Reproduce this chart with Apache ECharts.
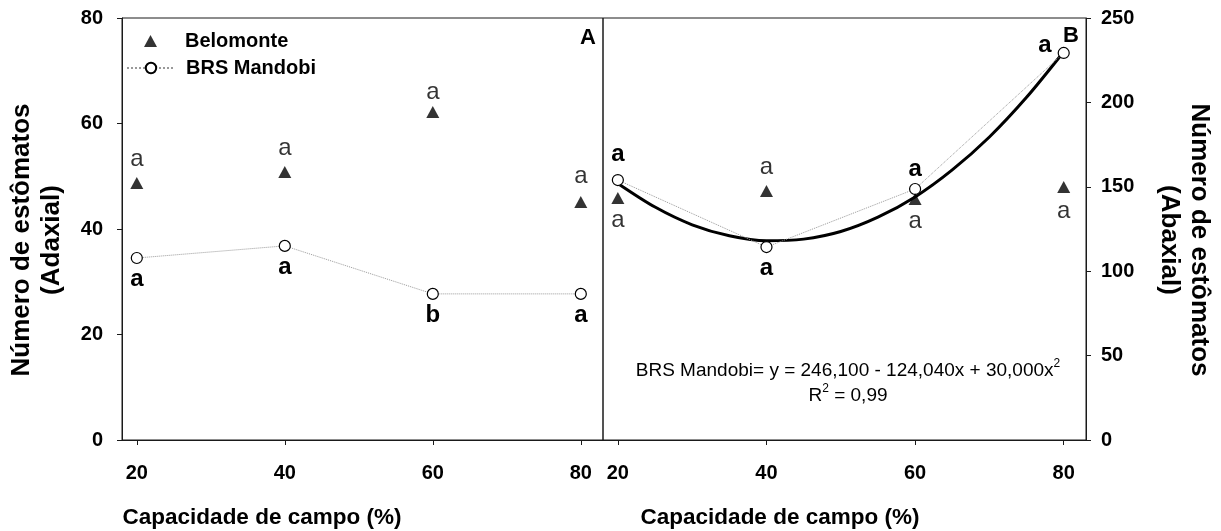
<!DOCTYPE html>
<html>
<head>
<meta charset="utf-8">
<script src="https://cdn.jsdelivr.net/npm/echarts@6/dist/echarts.min.js"></script>
<style>
  html, body { margin: 0; padding: 0; background: #fff; }
  #chart { width: 1221px; height: 531px; }
</style>
</head>
<body>
<div id="chart"></div>
<script>
// capacidade de campo (%)
const capacidade = [20, 40, 60, 80];
const ticksX = [20, 40, 60, 80];

// painel A - adaxial
const belomonteAdaxial = [48.7, 50.8, 62.2, 45.1];
const mandobiAdaxial = [34.5, 36.8, 27.7, 27.7];
const letrasBelAdaxial = ['a', 'a', 'a', 'a'];
const letrasManAdaxial = ['a', 'a', 'b', 'a'];

// painel B - abaxial
const belomonteAbaxial = [143.4, 147.5, 142.8, 149.9];
const mandobiAbaxial = [154, 114.3, 148.7, 229.3];
const letrasBelAbaxial = ['a', 'a', 'a', 'a'];
const letrasManAbaxial = ['a', 'a', 'a', 'a'];

// curva de regressão (BRS Mandobi, abaxial)
const ajusteX = [20, 25, 30, 35, 40, 45, 50, 55, 60, 65, 70, 75, 80];
const ajusteY = [152, 138, 127.5, 121, 118, 119, 123.5, 132, 144, 160, 179.5, 203, 230];

const fonte = 'Arial, "Liberation Sans", sans-serif';
const cor = '#1a1a1a';

// monta os pontos com a letra de cada média
function pontos(valores, letras, posicoes) {
  return capacidade.map((x, i) => {
    const p = posicoes[i];
    return {
      value: [x, valores[i]],
      label: {
        formatter: letras[i],
        position: p.pos,
        distance: p.dist,
        offset: p.off || [0, 0]
      }
    };
  });
}

const acima = { pos: 'top', dist: 6 };
const abaixo = { pos: 'bottom', dist: 3 };

const eixoX = (grid) => ({
  type: 'value',
  gridIndex: grid,
  min: 18,
  max: 83,
  axisLine: { show: true, lineStyle: { color: cor, width: 1 } },
  axisTick: { show: true, customValues: ticksX, length: 5, lineStyle: { color: cor } },
  axisLabel: {
    customValues: ticksX, margin: 23, color: '#000',
    fontFamily: fonte, fontWeight: 'bold', fontSize: 20
  },
  splitLine: { show: false }
});

const trianguloStyle = { color: '#000' };
const circuloStyle = { color: '#fff', borderColor: '#000', borderWidth: 1.2 };
const pontilhado = { type: 'dotted', color: '#999', width: 1 };
const letraNormal = { show: true, color: '#000', fontFamily: fonte, fontSize: 24 };
const letraBold = { show: true, color: '#000', fontFamily: fonte, fontSize: 24, fontWeight: 'bold' };
const legendaTexto = { fontFamily: fonte, fontWeight: 'bold', fontSize: 20, color: '#000' };

const chart = echarts.init(document.getElementById('chart'));
chart.setOption({
  animation: false,
  backgroundColor: '#fff',
  grid: [
    { left: 122, top: 18, width: 481, height: 422, show: true, borderColor: cor, borderWidth: 1 },
    { left: 603, top: 18, width: 483, height: 422, show: true, borderColor: cor, borderWidth: 1 }
  ],
  xAxis: [eixoX(0), eixoX(1)],
  yAxis: [
    {
      type: 'value', gridIndex: 0, position: 'left', min: 0, max: 80, interval: 20,
      axisLine: { show: true, lineStyle: { color: cor } },
      axisTick: { show: true, length: 5, lineStyle: { color: cor } },
      axisLabel: { margin: 19, color: '#000', fontFamily: fonte, fontWeight: 'bold', fontSize: 20 },
      splitLine: { show: false }
    },
    {
      type: 'value', gridIndex: 1, position: 'right', min: 0, max: 250, interval: 50,
      axisLine: { show: true, lineStyle: { color: cor } },
      axisTick: { show: true, length: 5, lineStyle: { color: cor } },
      axisLabel: { margin: 15, color: '#000', fontFamily: fonte, fontWeight: 'bold', fontSize: 20 },
      splitLine: { show: false }
    }
  ],
  legend: [
    {
      data: ['Belomonte'],
      left: 139, top: 26, padding: 5,
      itemWidth: 13, itemHeight: 12,
      textStyle: Object.assign({ padding: [0, 0, 0, 23] }, legendaTexto)
    },
    {
      data: ['BRS Mandobi'],
      left: 121, top: 53, padding: 5,
      itemWidth: 48, itemHeight: 13,
      textStyle: Object.assign({ padding: [0, 0, 0, 6] }, legendaTexto)
    }
  ],
  series: [
    {
      name: 'Belomonte', type: 'scatter', xAxisIndex: 0, yAxisIndex: 0,
      symbol: 'triangle', symbolSize: [13, 12], itemStyle: trianguloStyle,
      label: letraNormal,
      data: pontos(belomonteAdaxial, letrasBelAdaxial, [acima, acima, { pos: 'top', dist: 2 }, { pos: 'top', dist: 8 }])
    },
    {
      name: 'BRS Mandobi', type: 'line', xAxisIndex: 0, yAxisIndex: 0,
      symbol: 'circle', symbolSize: 11, itemStyle: circuloStyle, lineStyle: pontilhado,
      label: letraBold,
      data: pontos(mandobiAdaxial, letrasManAdaxial, [abaixo, abaixo, abaixo, abaixo])
    },
    {
      name: 'BRS Mandobi', type: 'line', xAxisIndex: 1, yAxisIndex: 1,
      symbol: 'circle', symbolSize: 11, itemStyle: circuloStyle, lineStyle: pontilhado,
      label: letraBold, z: 4,
      data: pontos(mandobiAbaxial, letrasManAbaxial,
        [{ pos: 'top', dist: 8 }, abaixo, { pos: 'top', dist: 2 }, { pos: 'left', dist: 6, off: [0, -8] }])
    },
    {
      name: 'Ajuste', type: 'line', xAxisIndex: 1, yAxisIndex: 1,
      smooth: 0.3, symbol: 'none', z: 3,
      lineStyle: { color: '#000', width: 3 },
      data: ajusteX.map((x, i) => [x, ajusteY[i]])
    },
    {
      name: 'Belomonte', type: 'scatter', xAxisIndex: 1, yAxisIndex: 1,
      symbol: 'triangle', symbolSize: [13, 12], itemStyle: trianguloStyle,
      label: letraNormal, z: 5,
      data: pontos(belomonteAbaxial, letrasBelAbaxial,
        [{ pos: 'bottom', dist: 4 }, acima, { pos: 'bottom', dist: 4 }, { pos: 'bottom', dist: 6 }])
    }
  ],
  graphic: [
    {
      type: 'text', x: 588, y: 38,
      style: { text: 'A', font: 'bold 22px ' + fonte, fill: '#000', align: 'center', verticalAlign: 'middle' }
    },
    {
      type: 'text', x: 1071, y: 36,
      style: { text: 'B', font: 'bold 22px ' + fonte, fill: '#000', align: 'center', verticalAlign: 'middle' }
    },
    {
      type: 'text', x: 848, y: 383,
      style: {
        text: 'BRS Mandobi= y = 246,100 - 124,040x + 30,000x{s|2}\nR{s|2} = 0,99',
        font: '19px ' + fonte, fill: '#000', align: 'center', verticalAlign: 'middle',
        lineHeight: 25,
        rich: { s: { fontSize: 12, verticalAlign: 'top', lineHeight: 25, fontFamily: fonte } }
      }
    },
    {
      type: 'text', x: 37, y: 240, rotation: Math.PI / 2,
      style: {
        text: 'Número de estômatos\n(Adaxial)', font: 'bold 26px ' + fonte, fill: '#000',
        align: 'center', verticalAlign: 'middle', lineHeight: 30
      }
    },
    {
      type: 'text', x: 1184, y: 240, rotation: -Math.PI / 2,
      style: {
        text: 'Número de estômatos\n(Abaxial)', font: 'bold 26px ' + fonte, fill: '#000',
        align: 'center', verticalAlign: 'middle', lineHeight: 30
      }
    },
    {
      type: 'text', x: 262, y: 518,
      style: { text: 'Capacidade de campo (%)', font: 'bold 22.5px ' + fonte, fill: '#000', align: 'center', verticalAlign: 'middle' }
    },
    {
      type: 'text', x: 780, y: 518,
      style: { text: 'Capacidade de campo (%)', font: 'bold 22.5px ' + fonte, fill: '#000', align: 'center', verticalAlign: 'middle' }
    }
  ]
});
</script>
</body>
</html>
